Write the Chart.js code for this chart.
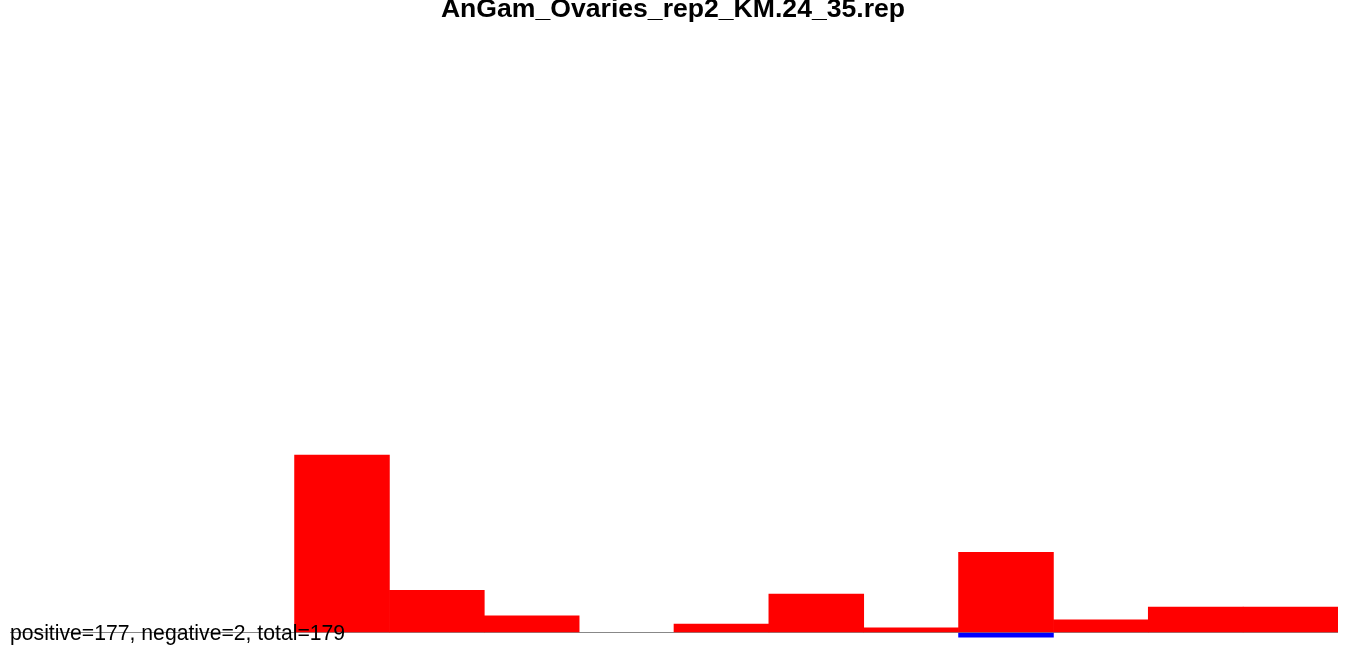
<!DOCTYPE html>
<html>
<head>
<meta charset="utf-8">
<script src="https://cdn.jsdelivr.net/npm/chart.js@4/dist/chart.umd.min.js"></script>
<style>
html,body{margin:0;padding:0;background:#fff;}
#wrap{position:relative;width:1350px;height:651px;}
</style>
</head>
<body>
<div id="wrap"><canvas id="c" width="1350" height="651"></canvas></div>
<script>
const titleText = "AnGam_Ovaries_rep2_KM.24_35.rep";
const summaryText = "positive=177, negative=2, total=179";
const categories = ["22","23","24","25","26","27","28","29","30","31","32","33","34","35"];
const positiveValues = [null, null, null, 73, 17.4, 6.9, null, 3.5, 15.8, 1.9, 33, 5.2, 10.5, 10.5];
const negativeValues = [null, null, null, null, null, null, null, null, null, null, -1.9, null, null, null];
const yMin = -7.6;
const yMax = 260.3;

const textPlugin = {
  id: 'texts',
  afterDatasetsDraw(chart) {
    const ctx = chart.ctx;
    ctx.save();
    ctx.fillStyle = '#000';
    ctx.textBaseline = 'alphabetic';
    ctx.font = 'bold 26.6px "Liberation Sans", Arial, sans-serif';
    ctx.textAlign = 'center';
    ctx.fillText(titleText, 673, 17);
    ctx.font = '21.2px "Liberation Sans", Arial, sans-serif';
    ctx.textAlign = 'left';
    ctx.fillText(summaryText, 10, 640);
    ctx.restore();
  }
};

new Chart(document.getElementById('c'), {
  type: 'bar',
  data: {
    labels: categories,
    datasets: [
      { label: 'positive', data: positiveValues, backgroundColor: '#ff0000', borderWidth: 0, barPercentage: 1, categoryPercentage: 1 },
      { label: 'negative', data: negativeValues, backgroundColor: '#0000ff', borderWidth: 0, barPercentage: 1, categoryPercentage: 1 }
    ]
  },
  options: {
    responsive: false,
    animation: false,
    devicePixelRatio: 1,
    layout: { padding: { left: 10, right: 12, top: 0, bottom: 0 } },
    plugins: { legend: { display: false }, title: { display: false }, tooltip: { enabled: false } },
    scales: {
      x: { display: false, stacked: true, grid: { display: false } },
      y: {
        display: true,
        stacked: true,
        min: yMin,
        max: yMax,
        afterBuildTicks(scale) { scale.ticks = [{ value: 0 }]; },
        ticks: { display: false },
        border: { display: false },
        grid: { drawTicks: false, color: '#888888', lineWidth: 1 }
      }
    }
  },
  plugins: [textPlugin]
});
</script>
</body>
</html>
